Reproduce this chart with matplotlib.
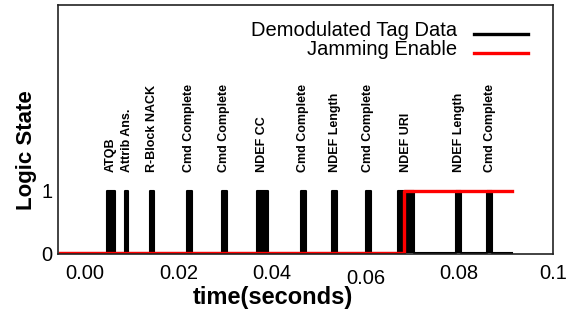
import matplotlib
matplotlib.use('Agg')
import matplotlib.pyplot as plt
import numpy as np

plt.rcParams['font.family'] = ['Liberation Sans', 'DejaVu Sans']

# Pulsos do sinal demodulado (inicio / fim em segundos)
pulse_start = [0.0047, 0.0086, 0.0140, 0.0218, 0.0293, 0.0367,
               0.0462, 0.0529, 0.0601, 0.0669, 0.0793, 0.0860]
pulse_end = [0.0064, 0.0093, 0.0148, 0.0228, 0.0303, 0.0391,
             0.0472, 0.0540, 0.0611, 0.0704, 0.0805, 0.0871]
pulse_labels = ['ATQB', 'Attrib Ans.', 'R-Block NACK', 'Cmd Complete',
                'Cmd Complete', 'NDEF CC', 'Cmd Complete', 'NDEF Length',
                'Cmd Complete', 'NDEF URI', 'NDEF Length', 'Cmd Complete']

t_begin = -0.0053
t_final = 0.0913
jam_on = 0.0682

x_ticks = [0.00, 0.02, 0.04, 0.06, 0.08, 0.10]
x_tick_labels = ['0.00', '0.02', '0.04', '0.06', '0.08', '0.1']
y_ticks = [0, 1]

# Monta o sinal em degraus
t = [t_begin]
y = [0]
for s, e in zip(pulse_start, pulse_end):
    t += [s, s, e, e]
    y += [0, 1, 1, 0]
t.append(t_final)
y.append(0)

fig = plt.figure(figsize=(5.66, 3.11), dpi=100)
ax = fig.add_axes([0.102, 0.1833, 0.8745, 0.8007])

ax.fill_between(t, y, 0, color='black', linewidth=0)
ax.plot(t, y, color='black', linewidth=1.5, label='Demodulated Tag Data')
ax.plot([t_begin, jam_on, jam_on, t_final], [0, 0, 1, 1],
        color='#ff0000', linewidth=2.4, label='Jamming Enable')

for s, e, lab in zip(pulse_start, pulse_end, pulse_labels):
    ax.text((s + e) / 2, 1.3, lab, rotation=90, ha='center', va='bottom',
            fontsize=9, fontweight='bold')

ax.set_xlim(-0.0058, 0.1)
ax.set_ylim(-0.008, 3.96)
ax.set_xticks(x_ticks)
ax.set_xticklabels(x_tick_labels)
ax.set_yticks(y_ticks)
ax.tick_params(axis='x', length=0, pad=7, labelsize=14.5)
ax.tick_params(axis='y', length=0, pad=4, labelsize=14.5)
# o rotulo 0.06 aparece um pouco mais baixo no original
ax.xaxis.get_major_ticks()[3].set_pad(10.5)

for sp in ax.spines.values():
    sp.set_linewidth(1.2)
    sp.set_color('#222222')

ax.set_xlabel('time(seconds)', fontsize=17, fontweight='bold')
ax.xaxis.set_label_coords(0.435, -0.173)
ax.xaxis.label.set_verticalalignment('center')
ax.set_ylabel('Logic State', fontsize=16, fontweight='bold')
ax.yaxis.set_label_coords(-0.064, 0.418)
ax.yaxis.label.set_verticalalignment('center')

leg = ax.legend(loc='upper right', bbox_to_anchor=(0.950, 0.936), frameon=False,
                markerfirst=False, fontsize=14.5, handlelength=2.7,
                handletextpad=0.8, labelspacing=0.0, borderpad=0,
                borderaxespad=0)
# linhas da legenda ficam um pouco abaixo do texto no original
for ln in leg.get_lines():
    ln.set_ydata(np.asarray(ln.get_ydata(), dtype=float) - 3.6)
    ln.set_linewidth(2.4)

fig.savefig('out.png', dpi=100)
plt.close(fig)
